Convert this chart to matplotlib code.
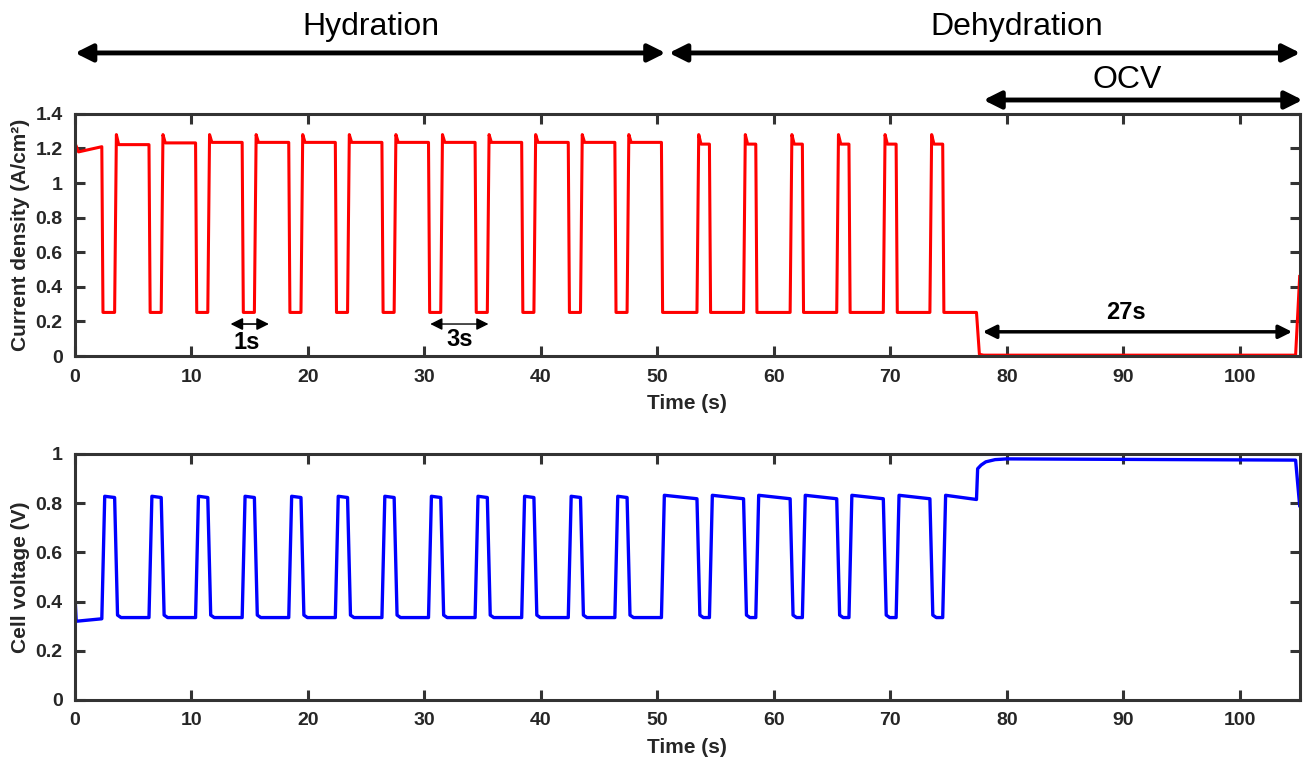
import numpy as np
import matplotlib.pyplot as plt

# tiempos de los flancos (s)
low_start = [2.3, 6.35, 10.35, 14.35, 18.35, 22.35, 26.35, 30.35, 34.35, 38.35,
             42.35, 46.35, 50.35, 54.47, 58.45, 62.45, 66.45, 70.5, 74.5]
low_end = [3.4, 7.4, 11.4, 15.4, 19.4, 23.4, 27.4, 31.4, 35.4, 39.4,
           43.4, 47.4, 53.4, 57.4, 61.4, 65.4, 69.4, 73.4, 77.4]

# niveles de densidad de corriente (A/cm2)
j_high = [1.21, 1.222, 1.232, 1.235, 1.235, 1.235, 1.235, 1.235, 1.235, 1.235,
          1.235, 1.235, 1.235, 1.225, 1.225, 1.225, 1.225, 1.225, 1.225]
j_low = 0.252
j_peak = 1.28
j_ocv_t = [77.65, 78.0, 104.8, 105.15]
j_ocv = [0.01, 0.005, 0.005, 0.46]

# niveles de voltaje (V)
v_high_a = [0.828] * 12 + [0.832] * 7
v_high_b = [0.823] * 12 + [0.818] * 6 + [0.815]
v_low = 0.335
v_ocv_t = [77.5, 77.8, 78.2, 79.0, 80.0, 90.0, 104.8, 105.15]
v_ocv = [0.94, 0.955, 0.968, 0.977, 0.98, 0.978, 0.975, 0.79]

# construir la curva de corriente
t_j, j = [0.0, 0.3], [1.23, 1.18]
for k in range(len(low_start)):
    t_j += [low_start[k], low_start[k] + 0.1, low_end[k]]
    j += [j_high[k], j_low, j_low]
    if k < len(low_start) - 1:
        t_j += [low_end[k] + 0.15, low_end[k] + 0.35]
        j += [j_peak, j_high[k + 1]]
t_j += j_ocv_t
j += j_ocv

# construir la curva de voltaje
t_v, v = [0.0, 0.1], [0.42, 0.32]
for k in range(len(low_start)):
    t_v += [low_start[k], low_start[k] + 0.25, low_end[k]]
    v += [0.33 if k == 0 else v_low, v_high_a[k], v_high_b[k]]
    if k < len(low_start) - 1:
        t_v += [low_end[k] + 0.25, low_end[k] + 0.55]
        v += [v_low + 0.01, v_low]
t_v += v_ocv_t
v += v_ocv

plt.rcParams['font.family'] = ['Liberation Sans', 'DejaVu Sans']
txt = '#262626'

fig = plt.figure(figsize=(13.07, 7.64), dpi=100)
ax1 = fig.add_axes([0.0574, 0.534, 0.937, 0.317])
ax2 = fig.add_axes([0.0574, 0.0838, 0.937, 0.322])

ax1.plot(t_j, j, color='#ff0000', lw=2.2)
ax2.plot(t_v, v, color='#0000ff', lw=2.4)

for ax in (ax1, ax2):
    ax.set_xlim(0, 105.15)
    ax.set_xticks(np.arange(0, 101, 10))
    ax.tick_params(direction='in', length=7, width=2.2, top=True, right=True,
                   labelsize=14, pad=9, colors='#333333', labelcolor=txt)
    for s in ax.spines.values():
        s.set_linewidth(2.2)
        s.set_color('#333333')
    ax.set_xticklabels([str(x) for x in range(0, 101, 10)], fontweight='bold')
    ax.set_xlabel('Time (s)', fontsize=15, fontweight='bold', labelpad=6,
                  color=txt)

ax1.set_ylim(0, 1.4)
ax1.set_yticks(np.arange(0, 1.41, 0.2))
ax1.set_yticklabels(['0', '0.2', '0.4', '0.6', '0.8', '1', '1.2', '1.4'],
                    fontweight='bold')
ax1.set_ylabel('Current density (A/cm²)', fontsize=15,
               fontweight='bold', labelpad=4, color=txt)

ax2.set_ylim(0, 1)
ax2.set_yticks(np.arange(0, 1.01, 0.2))
ax2.set_yticklabels(['0', '0.2', '0.4', '0.6', '0.8', '1'], fontweight='bold')
ax2.set_ylabel('Cell voltage (V)', fontsize=15, fontweight='bold', labelpad=4,
               color=txt)

# flechas de encabezado
big = dict(arrowstyle='<|-|>', lw=3.5, color='k', mutation_scale=26,
           shrinkA=0, shrinkB=0)
ax1.annotate('', xy=(0, 1.752), xytext=(50.7, 1.752), arrowprops=big,
             annotation_clip=False)
ax1.annotate('', xy=(51.0, 1.752), xytext=(105.2, 1.752), arrowprops=big,
             annotation_clip=False)
ax1.annotate('', xy=(78.0, 1.48), xytext=(105.4, 1.48), arrowprops=big,
             annotation_clip=False)
ax1.text(25.4, 1.90, 'Hydration', ha='center', va='center', fontsize=23)
ax1.text(80.9, 1.90, 'Dehydration', ha='center', va='center', fontsize=23)
ax1.text(90.3, 1.596, 'OCV', ha='center', va='center', fontsize=23)

# flechas internas
ax1.annotate('', xy=(13.35, 0.185), xytext=(16.65, 0.185),
             arrowprops=dict(arrowstyle='<|-|>', lw=1.2, color='k',
                             mutation_scale=18, shrinkA=0, shrinkB=0))
ax1.text(14.75, 0.08, '1s', ha='center', va='center', fontsize=17,
         fontweight='bold')
ax1.annotate('', xy=(30.5, 0.185), xytext=(35.5, 0.185),
             arrowprops=dict(arrowstyle='<|-|>', lw=1.0, color='k',
                             mutation_scale=18, shrinkA=0, shrinkB=0))
ax1.text(33.0, 0.095, '3s', ha='center', va='center', fontsize=17,
         fontweight='bold')
ax1.annotate('', xy=(77.94, 0.14), xytext=(104.5, 0.14),
             arrowprops=dict(arrowstyle='<|-|>', lw=2.5, color='k',
                             mutation_scale=20, shrinkA=0, shrinkB=0))
ax1.text(90.2, 0.25, '27s', ha='center', va='center', fontsize=17,
         fontweight='bold')

plt.savefig('out.png', dpi=100)
